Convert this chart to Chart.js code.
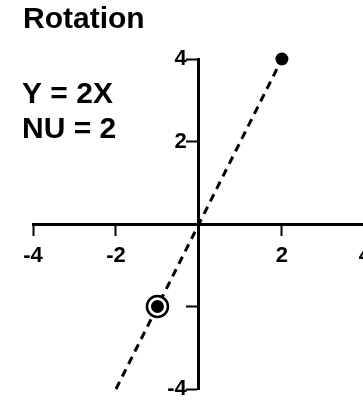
<!DOCTYPE html>
<html>
<head>
<meta charset="utf-8">
<script src="https://cdn.jsdelivr.net/npm/chart.js@4"></script>
<style>
  body { margin: 0; overflow: hidden; background: #fff; }
</style>
</head>
<body>
<canvas id="rotationChart" width="382" height="403"></canvas>
<script>
// rotated points (x, y)
const pointX = [2, -1];
const pointY = [4, -2];
// the circled point
const circledX = [-1];
const circledY = [-2];
// dashed line Y = 2X, endpoints
const lineX = [-2, 2];
const lineY = [-4, 4];
// axis ticks
const xTicks = [-4, -2, 0, 2, 4];
const xTickText = ['-4', '-2', '', '2', '4'];
const yTicks = [-4, -2, 0, 2, 4];
const yTickText = ['-4', '', '', '2', '4'];
const noteLines = ['Y = 2X', 'NU = 2'];

const toXY = (xs, ys) => xs.map((x, i) => ({ x: x, y: ys[i] }));
const tickFont = { family: 'Liberation Sans', size: 22, weight: 'bold', lineHeight: 1 };

const textPlugin = {
  id: 'texts',
  afterDraw(chart) {
    const ctx = chart.ctx;
    ctx.save();
    ctx.fillStyle = '#000';
    ctx.textAlign = 'left';
    ctx.textBaseline = 'alphabetic';
    ctx.font = 'bold 30px "Liberation Sans"';
    ctx.fillText('Rotation', 23, 28);
    ctx.fillText(noteLines[0], 22, 103);
    ctx.fillText(noteLines[1], 22, 138);
    ctx.restore();
  }
};

const ctx = document.getElementById('rotationChart').getContext('2d');
new Chart(ctx, {
  type: 'scatter',
  data: {
    datasets: [{
      label: 'points',
      data: toXY(pointX, pointY),
      backgroundColor: '#000',
      borderColor: '#000',
      pointRadius: 6.5,
      borderWidth: 0,
      clip: false
    }, {
      label: 'circled',
      data: toXY(circledX, circledY),
      backgroundColor: '#fff',
      borderColor: '#000',
      pointRadius: 10.5,
      borderWidth: 2.5,
      clip: false
    }, {
      label: 'Y = 2X',
      data: toXY(lineX, lineY),
      showLine: true,
      borderColor: '#000',
      borderWidth: 3,
      borderDash: [8, 6],
      pointRadius: 0,
      clip: false
    }]
  },
  options: {
    responsive: false,
    animation: false,
    layout: { padding: { left: 33, right: 5, top: 59, bottom: 10 } },
    plugins: {
      legend: { display: false },
      tooltip: { enabled: false }
    },
    scales: {
      x: {
        type: 'linear',
        position: { y: 0 },
        min: -4,
        max: 4,
        afterBuildTicks: (axis) => { axis.ticks = xTicks.map(v => ({ value: v })); },
        ticks: {
          color: '#000',
          font: tickFont,
          padding: 11,
          maxRotation: 0,
          callback: (v) => xTickText[xTicks.indexOf(v)]
        },
        grid: { drawOnChartArea: false, drawTicks: true, tickLength: 10, tickWidth: 2, tickColor: '#000' },
        border: { display: true, color: '#000', width: 3 }
      },
      y: {
        type: 'linear',
        position: { x: 0 },
        min: -4,
        max: 4,
        afterBuildTicks: (axis) => { axis.ticks = yTicks.map(v => ({ value: v })); },
        ticks: {
          color: '#000',
          font: tickFont,
          // labels sit right-aligned on the centred axis, so pad them off the tick marks
          callback: (v) => {
            const t = yTickText[yTicks.indexOf(v)];
            return t ? t + '  ' : '';
          }
        },
        grid: { drawOnChartArea: false, drawTicks: true, tickLength: 11, tickWidth: 2, tickColor: '#000' },
        border: { display: true, color: '#000', width: 3 }
      }
    }
  },
  plugins: [textPlugin]
});
</script>
</body>
</html>
